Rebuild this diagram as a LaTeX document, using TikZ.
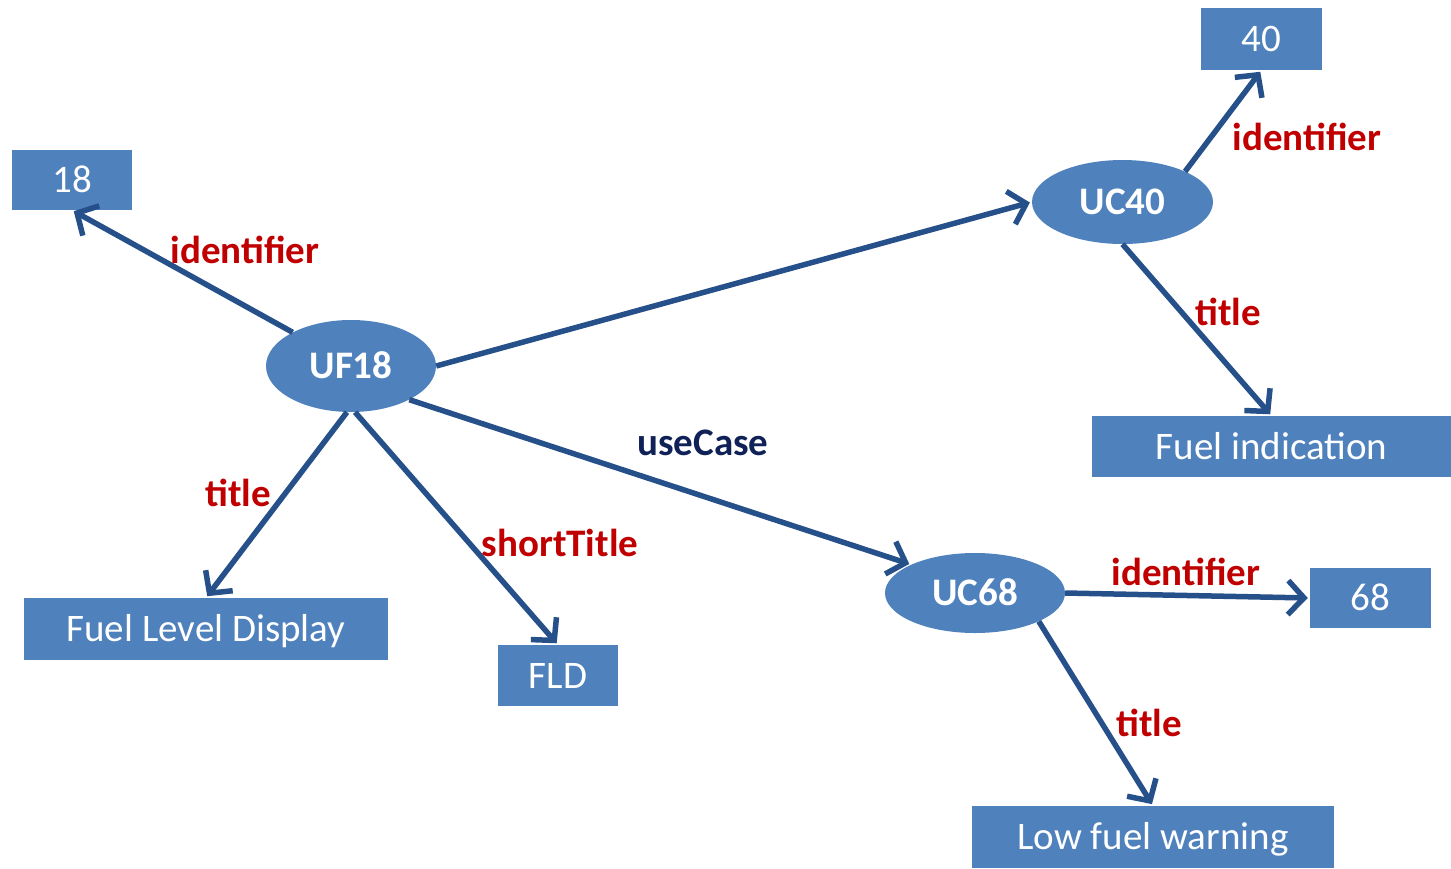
\documentclass[tikz,border=0pt]{standalone}
\usepackage{fontspec}
\setmainfont{Carlito}
\usetikzlibrary{arrows.meta,shapes.geometric}
\definecolor{boxblue}{HTML}{4F81BD}
\definecolor{linkblue}{HTML}{26508A}
\definecolor{labred}{HTML}{C00000}
\definecolor{labnavy}{HTML}{0F2157}
\begin{document}
\begin{tikzpicture}[x=1pt,y=-1pt,
  valbox/.style={rectangle, fill=boxblue, text=white, inner sep=0pt,
    text height=25pt, text depth=0pt,
    font=\fontsize{39}{46}\selectfont},
  resnode/.style={ellipse, fill=boxblue, text=white, inner sep=0pt,
    text height=25pt, text depth=0pt,
    font=\bfseries\fontsize{39}{46}\selectfont},
  link/.style={draw=linkblue, line width=5.5pt,
    -{Straight Barb[length=16pt,width=34pt]}, shorten >=2pt},
  proplabel/.style={text=labred, inner sep=0pt,
    font=\bfseries\fontsize{39}{46}\selectfont},
  relabel/.style={proplabel, text=labnavy},
]
\useasboundingbox (0,0) rectangle (1451,868);

% resources
\node[resnode, minimum width=170pt, minimum height=92pt] (uf18) at (351,366) {UF18};
\node[resnode, minimum width=181pt, minimum height=84pt] (uc40) at (1122.5,202) {UC40};
\node[resnode, minimum width=180pt, minimum height=80pt] (uc68) at (975,593) {UC68};

% literal values
\node[valbox, minimum width=120pt, minimum height=60pt] (v18) at (72,180) {18};
\node[valbox, minimum width=121pt, minimum height=62pt] (v40) at (1261.5,39) {40};
\node[valbox, minimum width=359pt, minimum height=61pt] (vfuelind) at (1271.5,446.5) {Fuel indication};
\node[valbox, minimum width=121pt, minimum height=60pt] (v68) at (1370.5,598) {68};
\node[valbox, minimum width=362pt, minimum height=62pt] (vlow) at (1153,837) {Low fuel warning};
\node[valbox, minimum width=364pt, minimum height=62pt] (vfld) at (206,629) {Fuel Level Display};
\node[valbox, minimum width=120pt, minimum height=61pt] (vshort) at (558,675.5) {FLD};

% properties
\draw[link] (uf18.150) -- (v18.south);
\draw[link] (uf18.east) -- (uc40.west);
\draw[link] (uf18.-30) -- (uc68.156);
\draw[link] (uf18.265) -- (vfld.north);
\draw[link] (uf18.275) -- (vshort.north);
\draw[link] (uc40.26) -- (v40.south);
\draw[link] (uc40.south) -- (vfuelind.north);
\draw[link] (uc68.east) -- (v68.west);
\draw[link] (uc68.-24) -- (vlow.north);

% property names
\node[proplabel] (l18) at (245,250) {identifier};
\node[relabel] (luse) at (703,443) {useCase};
\node[proplabel] (ltitle18) at (238,493) {title};
\node[proplabel] (lshort) at (560,543) {shortTitle};
\node[proplabel] (l40) at (1307,137) {identifier};
\node[proplabel] (ltitle40) at (1228,312) {title};
\node[proplabel] (l68) at (1186,572) {identifier};
\node[proplabel] (ltitle68) at (1149,723) {title};
\end{tikzpicture}
\end{document}
